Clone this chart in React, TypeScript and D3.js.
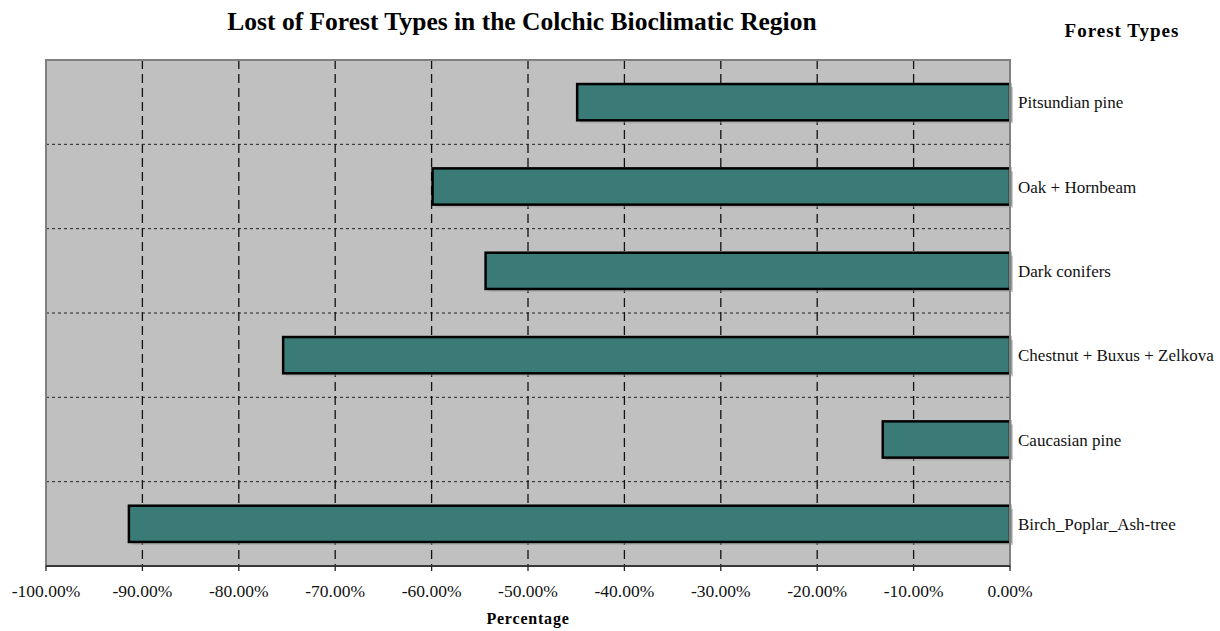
import React from 'react';
import * as d3 from 'd3';

// forest types, top to bottom
const forestTypes = [
    'Pitsundian pine',
    'Oak + Hornbeam',
    'Dark conifers',
    'Chestnut + Buxus + Zelkova',
    'Caucasian pine',
    'Birch_Poplar_Ash-tree'
];
// percent change
const lossValues = [-44.9, -59.9, -54.4, -75.4, -13.2, -91.4];
const xTicks = [-100, -90, -80, -70, -60, -50, -40, -30, -20, -10, 0];

const W = 1220;
const H = 631;
const plot = { left: 46, right: 1010, top: 60, bottom: 566 };
const font = '"Liberation Serif", "Times New Roman", serif';

export default function App() {
    const x = d3.scaleLinear().domain([-100, 0]).range([plot.left, plot.right]);
    const y = d3
        .scaleBand()
        .domain(forestTypes)
        .range([plot.top, plot.bottom])
        .paddingInner(0.57)
        .paddingOuter(0.285);
    const bandStep = y.step();
    const bandEdges = forestTypes.slice(1).map((_, i) => plot.top + bandStep * (i + 1));

    return (
        <svg width={W} height={H} style={{ position: 'absolute', left: 0, top: 0 }}>
            <rect x={0} y={0} width={W} height={H} fill="#fff" />
            <text x={522} y={30} textAnchor="middle" fontFamily={font} fontWeight="bold" fontSize={25.5}>
                Lost of Forest Types in the Colchic Bioclimatic Region
            </text>
            <text x={1122} y={37} textAnchor="middle" fontFamily={font} fontWeight="bold" fontSize={19} letterSpacing={1}>
                Forest Types
            </text>

            <rect
                x={plot.left}
                y={plot.top}
                width={plot.right - plot.left}
                height={plot.bottom - plot.top}
                fill="#c0c0c0"
            />

            {bandEdges.map((yy, i) => (
                <line key={'h' + i} x1={plot.left} x2={plot.right} y1={yy} y2={yy}
                    stroke="#222" strokeWidth={1} strokeDasharray="3,3" />
            ))}
            {xTicks.slice(1, -1).map(t => (
                <line key={'v' + t} x1={x(t)} x2={x(t)} y1={plot.top} y2={plot.bottom}
                    stroke="#111" strokeWidth={1.3} strokeDasharray="9,5" />
            ))}

            {forestTypes.map((name, i) => {
                const bx = x(lossValues[i]);
                const by = y(name)!;
                const bw = x(0) - bx;
                const bh = y.bandwidth();
                return (
                    <g key={name}>
                        <rect x={bx + 3} y={by + 3} width={bw} height={bh} fill="#9a9a9a" opacity={0.5} />
                        <rect x={bx} y={by} width={bw} height={bh} fill="#3a7b78" stroke="#000" strokeWidth={2.5} />
                        <text x={plot.right + 8} y={by + bh / 2 + 6} fontFamily={font} fontSize={17} fill="#111">
                            {name}
                        </text>
                    </g>
                );
            })}

            <rect
                x={plot.left}
                y={plot.top}
                width={plot.right - plot.left}
                height={plot.bottom - plot.top}
                fill="none"
                stroke="#808080"
                strokeWidth={2}
            />
            <line x1={plot.left} x2={plot.right} y1={plot.bottom} y2={plot.bottom} stroke="#222" strokeWidth={1.5} />
            {xTicks.map(t => (
                <g key={'t' + t}>
                    <line x1={x(t)} x2={x(t)} y1={plot.bottom} y2={plot.bottom + 5} stroke="#222" strokeWidth={1.3} />
                    <text x={x(t)} y={597} textAnchor="middle" fontFamily={font} fontSize={17.5} fill="#111">
                        {t.toFixed(2) + '%'}
                    </text>
                </g>
            ))}
            <text x={528} y={624} textAnchor="middle" fontFamily={font} fontWeight="bold" fontSize={16} letterSpacing={0.8}>
                Percentage
            </text>
        </svg>
    );
}
